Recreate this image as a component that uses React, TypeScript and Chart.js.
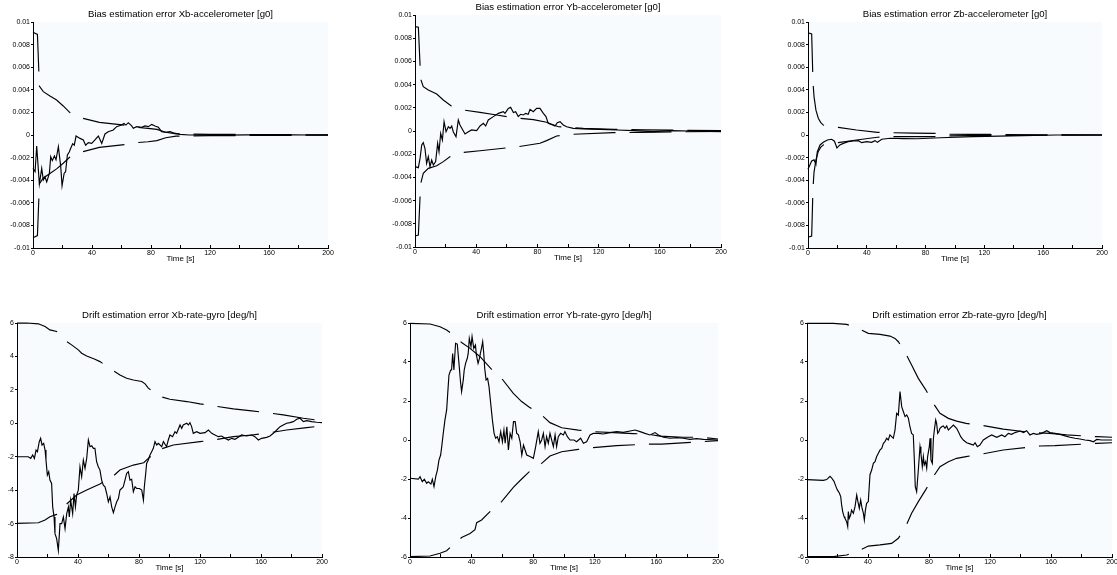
import React, { useEffect, useRef } from "react";
import { Chart, registerables } from "chart.js";

Chart.register(...registerables);

// ---------------- data (time [s], value) ----------------
const X_TICKS = [0, 20, 40, 60, 80, 100, 120, 140, 160, 180, 200];
const X_LABELS = ["0", "", "40", "", "80", "", "120", "", "160", "", "200"];

const ACC_Y_TICKS = [-0.01, -0.008, -0.006, -0.004, -0.002, 0, 0.002, 0.004, 0.006, 0.008, 0.01];
const ACC_Y_LABELS = ["-0.01", "-0.008", "-0.006", "-0.004", "-0.002", "0", "0.002", "0.004", "0.006", "0.008", "0.01"];
const GX_Y_TICKS = [-8, -6, -4, -2, 0, 2, 4, 6];
const GX_Y_LABELS = ["-8", "-6", "-4", "-2", "0", "2", "4", "6"];
const GYZ_Y_TICKS = [-6, -4, -2, 0, 2, 4, 6];
const GYZ_Y_LABELS = ["-6", "-4", "-2", "0", "2", "4", "6"];

const ACCX_ERR = [
  [0, -2.95e-3], [1.4, -3.25e-3], [2.5, -0.97e-3], [4.3, -4.34e-3], [5.9, -2.95e-3], [7.0, -3.98e-3],
  [8.1, -3.7e-3], [9.3, -4.15e-3], [11.1, -3.4e-3], [12, -1.92e-3], [13.1, -2.27e-3], [14.5, -1.86e-3],
  [15.6, -2.2e-3], [17.2, -1.03e-3], [18.8, -2.8e-3], [19.7, -4.5e-3], [21.1, -3.4e-3], [22.1, -3.25e-3],
  [23.3, -1.77e-3], [24.6, -1.5e-3], [25.5, -1.2e-3], [26.9, -0.77e-3], [28, -0.9e-3], [29.2, -0.09e-3],
  [31.9, -0.3e-3], [34.1, -0.44e-3], [35.7, -0.9e-3], [37.5, -0.68e-3], [39.8, -0.74e-3], [42, -0.44e-3],
  [44.3, -0.09e-3], [46.6, -0.74e-3], [48.8, 0.09e-3], [51, 0.29e-3], [54.4, 0.44e-3], [56.7, 0.74e-3],
  [60, 0.88e-3], [61.7, 1.03e-3], [63, 0.88e-3], [64.6, 1.09e-3], [66.9, 0.8e-3], [68, 0.59e-3],
  [70.3, 0.74e-3], [73.7, 0.68e-3], [75.9, 0.8e-3], [78.2, 0.74e-3], [80.5, 0.94e-3], [82.7, 0.8e-3],
  [85, 0.68e-3], [87.2, 0.3e-3], [89.5, 0.24e-3], [92.9, 0.3e-3], [95.1, 0.2e-3], [99.7, 0.06e-3],
  [106, 0], [115, 0.02e-3], [130, -0.01e-3], [145, 0.01e-3], [160, 0], [175, 0.01e-3], [190, 0], [200, 0],
];
const ACCX_UP = [
  [0, 9.1e-3], [3, 8.9e-3], [4, 5.5e-3], [4.4, 4.3e-3], [7, 3.84e-3], [11.5, 3.45e-3], [16, 3.1e-3],
  [20.5, 2.57e-3], [25, 1.98e-3], [29, 1.7e-3], [33, 1.5e-3], [45, 1.12e-3], [62, 0.88e-3], [70, 0.68e-3],
  [78, 0.58e-3], [84, 0.5e-3], [90, 0.24e-3], [97, 0.1e-3], [105, 0.08e-3], [120, 0.06e-3], [140, 0.05e-3],
  [160, 0.04e-3], [180, 0.03e-3], [200, 0.01e-3],
];
const ACCX_LO = [
  [0, -9.1e-3], [3, -8.9e-3], [4, -5.5e-3], [4.4, -4.3e-3], [7, -3.8e-3], [11.5, -3.4e-3], [16, -3.0e-3],
  [20.5, -2.5e-3], [25, -1.95e-3], [29, -1.7e-3], [33, -1.5e-3], [45, -1.1e-3], [62, -0.85e-3], [70, -0.68e-3],
  [78, -0.6e-3], [84, -0.5e-3], [90, -0.24e-3], [97, -0.1e-3], [105, -0.08e-3], [120, -0.06e-3], [140, -0.05e-3],
  [160, -0.04e-3], [180, -0.03e-3], [200, -0.01e-3],
];

const ACCY_ERR = [
  [0, -3.07e-3], [2.2, -3.16e-3], [3.3, -2.36e-3], [4.4, -1.2e-3], [5.4, -1.0e-3], [6.5, -1.5e-3], [7.6, -2.8e-3],
  [8.7, -2.2e-3], [9.8, -3.07e-3], [10.9, -2.5e-3], [12, -2.93e-3], [13.5, -2.64e-3], [14.8, -1.06e-3],
  [15.7, -1.78e-3], [16.8, -0.2e-3], [17.9, -0.78e-3], [19, 0.8e-3], [20.3, -0.06e-3], [21.8, 0.37e-3],
  [22.9, 0.23e-3], [24, 0.43e-3], [25, -0.06e-3], [26.8, -0.49e-3], [28.3, 0.95e-3], [29.4, 0.52e-3],
  [32.7, -0.26e-3], [34.9, -0.06e-3], [37, 0.09e-3], [40.3, 0.03e-3], [42.5, 0.43e-3], [44.7, 0.66e-3],
  [46.2, 0.43e-3], [47.9, 0.95e-3], [51.2, 1.24e-3], [54.5, 1.52e-3], [57.7, 1.67e-3], [58.8, 1.52e-3],
  [61, 1.95e-3], [62.5, 2.04e-3], [64.3, 1.6e-3], [65.8, 1.67e-3], [67.5, 1.24e-3], [69, 1.44e-3],
  [70.8, 1.38e-3], [72.3, 1.52e-3], [74, 1.44e-3], [75.2, 1.87e-3], [77.3, 1.67e-3], [79.5, 1.95e-3],
  [81.7, 1.95e-3], [83.9, 1.52e-3], [85.6, 1.24e-3], [87.1, 0.66e-3], [88.2, 0.6e-3], [90, 0.52e-3],
  [91.5, 0.43e-3], [93, 0.72e-3], [94.8, 0.8e-3], [96.9, 0.52e-3], [99.1, 0.37e-3], [103.5, 0.23e-3],
  [110, 0.17e-3], [121, 0.14e-3], [132, 0.09e-3], [143, 0.03e-3], [156, -0.06e-3], [167, 0.03e-3],
  [180, 0], [200, -0.06e-3],
];
const ACCY_UP = [
  [0, 9.0e-3], [2.2, 8.94e-3], [3.3, 5.7e-3], [3.9, 4.4e-3], [5.4, 3.82e-3], [8.7, 3.53e-3], [14.2, 3.19e-3],
  [18.5, 2.67e-3], [23.5, 2.18e-3], [31.6, 1.81e-3], [42.5, 1.61e-3], [53.4, 1.38e-3], [64.3, 1.15e-3],
  [77.4, 0.98e-3], [86, 0.75e-3], [93.7, 0.37e-3], [101, 0.3e-3], [110, 0.22e-3], [130, 0.14e-3],
  [150, 0.1e-3], [170, 0.07e-3], [200, 0.03e-3],
];
const ACCY_LO = [
  [0, -9.05e-3], [2.2, -8.97e-3], [3.3, -5.66e-3], [3.9, -4.45e-3], [5.4, -3.65e-3], [8.7, -3.22e-3],
  [14.2, -3.0e-3], [18.5, -2.64e-3], [23, -2.2e-3], [31.6, -1.84e-3], [42.5, -1.7e-3], [57.7, -1.49e-3],
  [67.5, -1.35e-3], [81.7, -1.06e-3], [86, -0.83e-3], [92.6, -0.43e-3], [102, -0.29e-3], [129.6, -0.14e-3],
  [147, -0.12e-3], [170, -0.07e-3], [200, -0.03e-3],
];

const ACCZ_ERR = [
  [0, -3.04e-3], [2.5, -2.3e-3], [4.1, -2.2e-3], [5.4, -2.6e-3], [6.3, -1.5e-3], [8.2, -0.88e-3],
  [10.4, -0.65e-3], [13.2, -0.44e-3], [16.1, -0.38e-3], [18, -0.55e-3], [19.7, -1.15e-3], [21.7, -0.88e-3],
  [24, -0.74e-3], [27.4, -0.59e-3], [30.8, -0.53e-3], [34.2, -0.5e-3], [36.5, -0.68e-3], [39.9, -0.59e-3],
  [43.3, -0.65e-3], [45.6, -0.5e-3], [47.2, -0.65e-3], [50.2, -0.38e-3], [55.9, -0.29e-3], [65, -0.32e-3],
  [74, -0.33e-3], [90, -0.24e-3], [112, -0.15e-3], [130, -0.1e-3], [146, -0.06e-3], [169, 0], [200, 0],
];
const ACCZ_UP = [
  [0, 9.05e-3], [2.5, 8.94e-3], [3.2, 5.6e-3], [3.6, 4.28e-3], [4.1, 3.4e-3], [5.4, 2.2e-3], [7, 1.48e-3],
  [8.6, 1.12e-3], [10.4, 0.88e-3], [15, 0.77e-3], [20.6, 0.68e-3], [33, 0.44e-3], [47.2, 0.23e-3],
  [58, 0.2e-3], [72, 0.17e-3], [86, 0.15e-3], [95, 0.07e-3], [110, 0.06e-3], [124, 0.05e-3], [133, 0.03e-3],
  [161, 0.02e-3], [171, 0.01e-3], [200, 0],
];
const ACCZ_LO = [
  [0, -9.05e-3], [2.5, -8.94e-3], [3.2, -5.6e-3], [3.6, -4.3e-3], [4.1, -3.3e-3], [5.4, -2.2e-3], [7, -1.45e-3],
  [8.6, -1.1e-3], [10.4, -0.88e-3], [15, -0.77e-3], [20.6, -0.68e-3], [33, -0.44e-3], [47.2, -0.2e-3],
  [58, -0.15e-3], [72, -0.15e-3], [86, -0.14e-3], [95, -0.08e-3], [110, -0.06e-3], [124, -0.05e-3],
  [133, -0.03e-3], [161, -0.02e-3], [171, -0.01e-3], [200, 0],
];

const GYROX_ERR = [
  [0, -2.0], [7.4, -2.0], [9, -2.1], [10.3, -1.9], [11.4, -2.1], [12.5, -1.6], [13.4, -1.7], [14.6, -1.1],
  [15.5, -0.9], [16.4, -1.3], [17.5, -1.2], [18.4, -1.6], [19, -2.2], [19.9, -3.1], [20.8, -2.9], [21.6, -3.4],
  [22.7, -3.6], [23.4, -5.0], [24.3, -5.6], [24.9, -6.6], [26, -6.9], [27.1, -7.6], [27.8, -6.6], [28.2, -6.0],
  [29.3, -6.0], [30.4, -5.6], [31.5, -6.3], [32.6, -5.4], [33.7, -5.0], [34.3, -5.6], [35.2, -4.6], [36.5, -5.4],
  [37.4, -4.2], [38.3, -5.0], [39.1, -4.3], [40.2, -4.0], [41.3, -2.6], [42.4, -3.2], [43.5, -2.2], [44.6, -2.7],
  [45.7, -2.1], [46.8, -1.0], [47.9, -1.4], [49, -1.35], [50.1, -1.5], [51.1, -1.5], [52.2, -2.3], [53.3, -2.6],
  [54.4, -2.8], [55.5, -3.4], [56.6, -3.7], [57.7, -3.8], [58.8, -4.2], [59.9, -4.7], [61, -4.4], [62.1, -5.0],
  [63.2, -5.35], [64.3, -5.0], [65.4, -4.7], [66.5, -4.5], [67.5, -4.0], [68.6, -3.9], [69.7, -3.8], [70.8, -3.4],
  [71.9, -3.0], [73, -2.9], [74.1, -3.4], [75.2, -3.35], [76.3, -4.1], [77.4, -3.8], [78.5, -3.9], [80.3, -3.9],
  [81.8, -4.0], [82.9, -4.6], [83.5, -3.8], [84.4, -3.0], [85, -2.4], [86.1, -2.2], [87.2, -1.9], [88.3, -1.7],
  [89.4, -1.5], [90.5, -1.1], [91.6, -1.3], [92.7, -1.2], [94.9, -1.4], [96, -1.1], [98.1, -1.4], [99.2, -1.0],
  [100.3, -0.7], [102, -0.8], [103.6, -0.5], [104.7, -0.6], [106.9, -0.1], [108, -0.3], [109, -0.1], [111.3, 0],
  [112.4, -0.1], [113.4, 0.04], [114.5, -0.2], [115.6, -0.6], [117.8, -0.5], [120, -0.6], [123.3, -0.56],
  [125.5, -0.4], [127.7, -0.6], [129.8, -0.7], [132, -0.8], [134.2, -0.76], [136.4, -0.9], [138.6, -1.0],
  [140.8, -0.9], [142.9, -0.96], [145.1, -0.84], [147.3, -0.7], [150.6, -0.76], [153.9, -0.7], [156, -0.8],
  [158.3, -1.0], [160.4, -0.9], [163.7, -0.84], [165.9, -0.76], [168.1, -0.6], [170.3, -0.4], [172.5, -0.2],
  [174.6, -0.1], [176.8, 0], [179, 0.04], [181.2, 0.1], [183.4, 0.24], [185.6, 0.3], [187.8, 0.1], [190, 0.16],
  [193.2, 0.1], [196.5, 0.06], [200, 0.04],
];
const GYROX_UP = [
  [0, 5.99], [6.3, 6.0], [14, 5.95], [18.4, 5.79], [21.6, 5.59], [26, 5.49], [32.6, 4.89], [35.8, 4.69],
  [40.2, 4.39], [42.4, 4.19], [45.7, 4.03], [51.1, 3.83], [54.4, 3.69], [63.2, 3.15], [67.5, 2.89], [71.9, 2.69],
  [76.3, 2.59], [81.8, 2.5], [84, 2.36], [86.1, 2.1], [93.8, 1.6], [100.3, 1.44], [111.3, 1.3], [120, 1.16],
  [128.7, 1.04], [141.9, 0.86], [153.9, 0.74], [163.7, 0.64], [174.6, 0.5], [187.8, 0.3], [200, 0.15],
];
const GYROX_LO = [
  [0, -5.99], [14, -5.95], [18.4, -5.79], [21.6, -5.59], [26, -5.45], [32.6, -4.83], [39.1, -4.29],
  [45.7, -3.99], [54.4, -3.63], [63.2, -3.15], [67.5, -2.8], [76.3, -2.5], [83.1, -2.36], [86.1, -2.1],
  [93.8, -1.56], [102.5, -1.3], [120, -1.1], [128.7, -1.0], [141.9, -0.8], [153.9, -0.7], [163.7, -0.6],
  [176.8, -0.4], [190, -0.26], [200, -0.15],
];

const GYROY_ERR = [
  [0, -1.96], [5.4, -2.01], [6.5, -1.88], [8, -2.14], [9.3, -2.01], [10.8, -2.22], [11.9, -2.14], [13.6, -2.26],
  [14.5, -2.01], [15.6, -2.39], [16.7, -1.88], [17.8, -1.54], [18.8, -1.03], [19.9, -0.77], [20.6, -0.34],
  [21.6, 0.34], [22.7, 1.03], [23.8, 1.54], [24.5, 2.39], [25.3, 3.33], [26.4, 3.59], [27, 3.59], [27.7, 4.44],
  [28.5, 3.59], [29.6, 4.96], [30.7, 4.92], [31.8, 3.93], [32.8, 2.99], [33.5, 2.48], [34.6, 3.08], [35.2, 3.59],
  [36.1, 3.93], [37.2, 4.19], [37.8, 4.44], [38.5, 5.21], [39.6, 4.79], [40.3, 5.3], [41.4, 4.7], [42.5, 4.87],
  [43.1, 4.36], [44.2, 3.93], [45.1, 4.19], [45.7, 4.44], [46.4, 4.7], [47.2, 5.04], [47.9, 4.44], [48.5, 3.68],
  [49.4, 3.08], [50.4, 3.16], [51.3, 2.74], [52.4, 1.88], [53.5, 1.03], [54.6, 0.34], [55.6, 0.09], [56.7, 0.17],
  [57.8, -0.09], [58.9, 0.43], [60, -0.09], [61, 0.51], [61.8, -0.17], [62.9, 0.68], [63.9, -0.51], [65, 0.34],
  [66.1, 0.09], [67.2, 0.94], [68.3, 0.94], [69.3, 0.34], [70.4, 0.26], [71.5, -0.09], [72.6, -0.77],
  [73.7, -0.26], [75.8, -0.77], [77.9, -0.85], [80.1, -0.94], [81.6, -0.34], [83.3, 0.43], [84.4, -0.17],
  [85.5, 0], [86.6, 0.34], [87.7, -0.34], [88.7, 0.17], [89.8, -0.17], [90.9, 0.34], [92, 0], [93.1, -0.34],
  [94.2, 0.26], [95.2, -0.34], [96.3, 0.17], [97.8, 0.34], [99.6, 0.26], [100.6, 0.43], [102.2, 0.17],
  [103.9, 0], [106.5, 0], [108.2, -0.09], [110.8, 0.09], [112.6, -0.17], [114.7, -0.09], [116.9, 0.26],
  [119, 0.34], [122.3, 0.34], [125.5, 0.31], [129.9, 0.38], [134.2, 0.43], [138.5, 0.39], [142.9, 0.46],
  [146.1, 0.51], [149.4, 0.43], [152.6, 0.34], [155.8, 0.26], [159.1, 0.38], [161.3, 0.26], [164.5, 0.14],
  [168.8, 0.09], [173.2, 0.12], [177.5, 0.09], [181.8, 0.03], [186.1, 0.07], [190.5, 0.03], [200, 0],
];
const GYROY_UP = [
  [0, 5.98], [13, 5.95], [19.5, 5.81], [23.8, 5.64], [26.6, 5.47], [33.5, 5.0], [39, 4.7], [45.5, 4.27],
  [52.4, 3.67], [59.5, 3.16], [67.1, 2.39], [72.5, 1.97], [77.5, 1.68], [85.5, 1.28], [90.9, 0.89], [98.5, 0.63],
  [109.3, 0.51], [119, 0.43], [132, 0.38], [145, 0.33], [154.8, 0.29], [162.3, 0.2], [177.5, 0.14],
  [189.4, 0.14], [200, 0.05],
];
const GYROY_LO = [
  [0, -5.98], [13, -5.95], [19.5, -5.81], [23.8, -5.68], [26.6, -5.47], [33.5, -5.0], [39, -4.79], [42.2, -4.6],
  [43.3, -4.24], [46.5, -4.1], [52.4, -3.64], [59.5, -3.16], [67.1, -2.43], [72.5, -2.0], [77.5, -1.62],
  [85.5, -1.2], [90.9, -0.82], [98.5, -0.6], [109.3, -0.48], [119, -0.39], [134.2, -0.29], [153.7, -0.21],
  [163.4, -0.21], [189.4, -0.09], [200, -0.03],
];

const GYROZ_ERR = [
  [0, -2.03], [10.7, -2.07], [12.9, -2.03], [15.1, -1.86], [16.2, -1.95], [17.7, -2.12], [19, -2.39],
  [19.9, -2.56], [21.2, -2.72], [22.1, -2.9], [22.7, -3.33], [23.4, -3.67], [24.3, -3.93], [24.9, -4.02],
  [26, -4.19], [26.7, -4.44], [27.1, -3.67], [27.7, -4.02], [28.6, -3.85], [29.2, -3.6], [30.4, -3.76],
  [31.5, -3.42], [32.6, -2.82], [33.2, -3.08], [34.3, -3.5], [35.2, -3.08], [36.1, -3.5], [37, -3.76],
  [37.6, -4.1], [38.3, -3.6], [39.1, -3.25], [40.2, -3.16], [41.3, -1.78], [42.4, -1.54], [43.5, -1.2],
  [44.6, -1.11], [45.7, -0.85], [46.8, -0.68], [47.9, -0.51], [49, -0.43], [50.1, -0.17], [51.1, -0.09],
  [52.2, 0.09], [53.3, 0], [54.4, 0.26], [55.5, 0.17], [56.6, 0.09], [57.7, 0.51], [58.8, 1.37], [59.9, 1.28],
  [61, 2.48], [62.1, 1.71], [63.2, 1.45], [64.3, 1.2], [65.4, 1.28], [66.5, 1.11], [67.5, 0.68], [68.6, 0.34],
  [69.7, 0.26], [70.4, -1.03], [71, -2.39], [71.9, -2.65], [73, -1.54], [74.1, -0.34], [74.7, -0.68],
  [75.6, -1.37], [76.3, -0.85], [76.9, -1.28], [77.8, -1.11], [78.5, -1.45], [79.1, -0.85], [80.2, -0.34],
  [80.7, 0.09], [81.3, -1.03], [82.2, -1.2], [82.9, 0.09], [83.5, 0.51], [84.4, 1.03], [85, 0.85], [85.7, 0.34],
  [86.5, 0.43], [87.2, 0.6], [88.3, 0.68], [89.4, 0.72], [90.5, 0.6], [91.6, 0.72], [92.7, 0.51], [93.8, 0.6],
  [96, 0.77], [98.1, 0.6], [99.2, 0.43], [100.8, 0.17], [102.5, 0], [104.7, -0.14], [106.9, -0.2],
  [109.1, -0.26], [110.2, -0.14], [111.7, -0.34], [113.4, -0.26], [115.6, 0], [118.9, 0.17], [121.1, 0.26],
  [124.4, 0.14], [127.7, 0.26], [129.8, 0.17], [132, 0.34], [134.2, 0.29], [136.4, 0.38], [139.7, 0.46],
  [141.9, 0.38], [144, 0.48], [146.2, 0.26], [148.4, 0.34], [150.6, 0.29], [153.9, 0.34], [157.2, 0.48],
  [159.3, 0.38], [162.6, 0.34], [165.9, 0.29], [169.2, 0.21], [172.5, 0.14], [175.7, 0.09], [179, 0.05],
  [182.3, 0], [185.6, -0.03], [187.8, -0.09], [190, 0.03], [193.2, 0], [200, 0],
];
const GYROZ_UP = [
  [0, 5.98], [17.3, 5.98], [26, 5.93], [34.8, 5.68], [40.2, 5.47], [47.9, 5.42], [54.4, 5.33], [57.7, 5.21],
  [59.9, 5.04], [64.7, 4.44], [68.6, 3.85], [73, 3.16], [78, 2.56], [82.8, 1.88], [87.2, 1.37], [92.7, 1.11],
  [98.1, 0.97], [104.3, 0.85], [113.4, 0.77], [128.7, 0.56], [146.2, 0.39], [159.3, 0.34], [170.3, 0.26],
  [190, 0.17], [200, 0.14],
];
const GYROZ_LO = [
  [0, -5.98], [17.3, -5.98], [26, -5.9], [34.8, -5.64], [40.2, -5.44], [47.9, -5.38], [55.5, -5.3],
  [59.9, -5.04], [64.7, -4.44], [68.6, -3.76], [73, -3.16], [78, -2.53], [82.8, -1.88], [87.2, -1.37],
  [92.7, -1.11], [98.1, -0.94], [104.3, -0.85], [113.4, -0.74], [128.7, -0.51], [152.8, -0.31],
  [162.6, -0.29], [190, -0.17], [200, -0.14],
];

const TITLES = [
  "Bias estimation error Xb-accelerometer [g0]",
  "Bias estimation error Yb-accelerometer [g0]",
  "Bias estimation error Zb-accelerometer [g0]",
  "Drift estimation error Xb-rate-gyro [deg/h]",
  "Drift estimation error Yb-rate-gyro [deg/h]",
  "Drift estimation error Zb-rate-gyro [deg/h]",
];
const X_TITLE = "Time [s]";

// ---------------- layout & style ----------------
// plot-area rectangles on the page (left, top, right, bottom)
const AREAS = [
  [33, 22, 328, 248],
  [415, 15, 721, 247],
  [808, 22, 1102, 248],
  [17, 323, 322, 557],
  [410, 323, 718, 557],
  [807, 323, 1112, 557],
];
const AXIS_W = 40;
const TITLE_H = 22;
const XAXIS_H = 20;
const RIGHT_PAD = 12;
const FONT = "'Liberation Sans', Arial, Helvetica, sans-serif";
const INK = "#000";
const PLOT_BG = "#f8fbfd";
const DASH = [42, 14];

type Pts = number[][];
type PanelCfg = {
  title: string;
  err: Pts;
  up: Pts;
  lo: Pts;
  yTicks: number[];
  yLabels: string[];
  area: number[];
};

const PANELS: PanelCfg[] = [
  { title: TITLES[0], err: ACCX_ERR, up: ACCX_UP, lo: ACCX_LO, yTicks: ACC_Y_TICKS, yLabels: ACC_Y_LABELS, area: AREAS[0] },
  { title: TITLES[1], err: ACCY_ERR, up: ACCY_UP, lo: ACCY_LO, yTicks: ACC_Y_TICKS, yLabels: ACC_Y_LABELS, area: AREAS[1] },
  { title: TITLES[2], err: ACCZ_ERR, up: ACCZ_UP, lo: ACCZ_LO, yTicks: ACC_Y_TICKS, yLabels: ACC_Y_LABELS, area: AREAS[2] },
  { title: TITLES[3], err: GYROX_ERR, up: GYROX_UP, lo: GYROX_LO, yTicks: GX_Y_TICKS, yLabels: GX_Y_LABELS, area: AREAS[3] },
  { title: TITLES[4], err: GYROY_ERR, up: GYROY_UP, lo: GYROY_LO, yTicks: GYZ_Y_TICKS, yLabels: GYZ_Y_LABELS, area: AREAS[4] },
  { title: TITLES[5], err: GYROZ_ERR, up: GYROZ_UP, lo: GYROZ_LO, yTicks: GYZ_Y_TICKS, yLabels: GYZ_Y_LABELS, area: AREAS[5] },
];

const toXY = (pts: Pts) => pts.map(([x, y]) => ({ x, y }));

const bgPlugin = {
  id: "plotBg",
  beforeDraw(chart: any) {
    const { ctx, chartArea } = chart;
    if (!chartArea) return;
    ctx.save();
    ctx.fillStyle = PLOT_BG;
    ctx.fillRect(chartArea.left, chartArea.top, chartArea.right - chartArea.left, chartArea.bottom - chartArea.top);
    ctx.restore();
  },
};

function PanelChart({ cfg }: { cfg: PanelCfg }) {
  const ref = useRef<HTMLCanvasElement | null>(null);
  const [L, T, R, B] = cfg.area;
  const width = R - L + AXIS_W + RIGHT_PAD;
  const height = B - T + TITLE_H + XAXIS_H;

  useEffect(() => {
    if (!ref.current) return;
    const titleFont = 9.6;
    const titleLh = titleFont * 1.2;
    const titleTop = TITLE_H - 8 - titleLh / 2;
    const tickFont = 7;
    const xTitleFont = 8;
    const line = (data: Pts, dashed: boolean) => ({
      data: toXY(data),
      borderColor: INK,
      borderWidth: 1.15,
      borderDash: dashed ? DASH : [],
      pointRadius: 0,
      tension: 0,
      fill: false,
      clip: false as any,
    });
    const chart = new Chart(ref.current, {
      type: "line",
      data: { datasets: [line(cfg.up, true), line(cfg.lo, true), line(cfg.err, false)] as any },
      plugins: [bgPlugin],
      options: {
        animation: false,
        responsive: false,
        events: [],
        layout: { padding: { left: 0, top: 0, right: RIGHT_PAD, bottom: 0 } },
        plugins: {
          legend: { display: false },
          tooltip: { enabled: false },
          title: {
            display: true,
            fullSize: false,
            text: cfg.title,
            color: INK,
            font: { family: FONT, size: titleFont, weight: "normal" as any, lineHeight: 1.2 },
            padding: { top: titleTop, bottom: TITLE_H - titleTop - titleLh },
          },
        },
        scales: {
          x: {
            type: "linear",
            position: "bottom",
            min: 0,
            max: 200,
            afterBuildTicks: (s: any) => {
              s.ticks = X_TICKS.map((v) => ({ value: v }));
            },
            afterFit: (s: any) => {
              s.height = XAXIS_H;
              s.paddingLeft = 0;
              s.paddingRight = 0;
            },
            ticks: {
              autoSkip: false,
              maxRotation: 0,
              color: INK,
              padding: 3.8,
              font: { family: FONT, size: tickFont },
              callback: (_v: any, i: number) => X_LABELS[i],
            },
            grid: { display: true, drawOnChartArea: false, drawTicks: true, tickLength: -3, color: INK },
            border: { display: true, color: INK, width: 1 },
            title: {
              display: true,
              text: X_TITLE,
              color: INK,
              font: { family: FONT, size: xTitleFont },
              padding: { top: 0, bottom: XAXIS_H - 11 - (xTitleFont * 1.2) / 2 },
            },
          },
          y: {
            type: "linear",
            position: "left",
            min: cfg.yTicks[0],
            max: cfg.yTicks[cfg.yTicks.length - 1],
            afterBuildTicks: (s: any) => {
              s.ticks = cfg.yTicks.map((v) => ({ value: v }));
            },
            afterFit: (s: any) => {
              s.width = AXIS_W;
              s.paddingTop = 0;
              s.paddingBottom = 0;
            },
            ticks: {
              autoSkip: false,
              color: INK,
              padding: 1,
              font: { family: FONT, size: tickFont },
              callback: (_v: any, i: number) => cfg.yLabels[i],
            },
            grid: { display: true, drawOnChartArea: false, drawTicks: true, tickLength: 2, color: INK },
            border: { display: true, color: INK, width: 1 },
          },
        },
      } as any,
    });
    return () => chart.destroy();
  }, [cfg]);

  return (
    <canvas
      ref={ref}
      width={width}
      height={height}
      style={{
        position: "absolute",
        left: L - AXIS_W,
        top: T - TITLE_H,
        width,
        height,
        display: "block",
      }}
    />
  );
}

export default function App() {
  return (
    <div
      style={{
        position: "fixed",
        left: 0,
        top: 0,
        width: 1117,
        height: 575,
        overflow: "hidden",
        background: "#fff",
      }}
    >
      {PANELS.map((p, i) => (
        <PanelChart key={i} cfg={p} />
      ))}
    </div>
  );
}
